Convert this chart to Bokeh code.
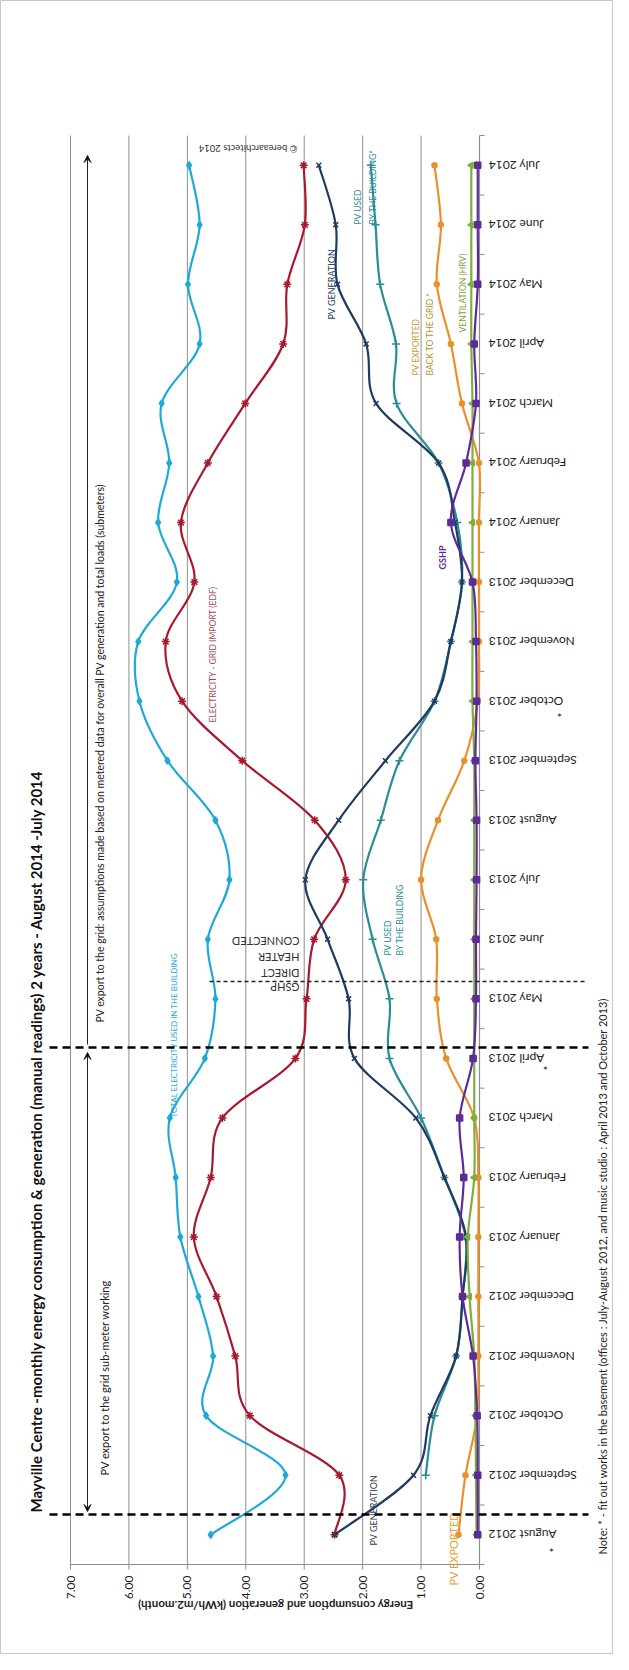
import math
from bokeh.plotting import figure
from bokeh.models import Range1d, Arrow, VeeHead, ColumnDataSource
from bokeh.embed import file_html
from bokeh.resources import INLINE
from bokeh.core.properties import value

# ---------------- data ----------------
months = ["August 2012", "September 2012", "October 2012", "November 2012", "December 2012",
          "January 2013", "February 2013", "March 2013", "April 2013", "May 2013", "June 2013",
          "July 2013", "August 2013", "September 2013", "October 2013", "November 2013",
          "December 2013", "January 2014", "February 2014", "March 2014", "April 2014",
          "May 2014", "June 2014", "July 2014"]

total_electricity = [4.60, 3.32, 4.68, 4.56, 4.81, 5.12, 5.20, 5.30, 4.70, 4.52, 4.65, 4.28,
                     4.52, 5.34, 5.82, 5.84, 5.18, 5.50, 5.31, 5.44, 4.79, 4.99, 4.79, 4.97]
grid_import = [2.48, 2.40, 3.93, 4.18, 4.50, 4.89, 4.60, 4.40, 3.15, 2.96, 2.83, 2.29,
               2.82, 4.06, 5.09, 5.37, 4.88, 5.11, 4.65, 4.01, 3.36, 3.29, 2.99, 3.01]
pv_generation = [2.48, 1.13, 0.84, 0.40, 0.29, 0.23, 0.60, 1.09, 2.14, 2.24, 2.60, 2.98,
                 2.41, 1.61, 0.77, 0.49, 0.30, 0.42, 0.70, 1.77, 1.94, 2.43, 2.46, 2.75]
pv_used = [None, 0.92, 0.77, 0.40, 0.29, 0.24, 0.60, 1.00, 1.54, 1.54, 1.83, 1.99,
           1.69, 1.37, 0.77, 0.49, 0.30, 0.38, 0.70, 1.42, 1.43, 1.70, 1.78, 1.86]
pv_exported = [0.36, 0.24, 0.04, 0.02, 0.02, 0.02, 0.02, 0.09, 0.57, 0.73, 0.74, 1.00,
               0.71, 0.26, 0.03, 0.01, 0.01, 0.01, 0.01, 0.30, 0.49, 0.73, 0.66, 0.77]
ventilation = [0.05, 0.06, 0.07, 0.09, 0.17, 0.20, 0.09, 0.09, 0.09, 0.09, 0.09, 0.09,
               0.09, 0.09, 0.12, 0.12, 0.12, 0.12, 0.12, 0.12, 0.14, 0.14, 0.14, 0.14]
gshp = [0.03, 0.03, 0.04, 0.11, 0.29, 0.34, 0.27, 0.34, 0.11, 0.06, 0.06, 0.05,
        0.05, 0.07, 0.05, 0.06, 0.12, 0.49, 0.23, 0.06, 0.09, 0.03, 0.03, 0.03]

value_ticks = [0, 1, 2, 3, 4, 5, 6, 7]
value_tick_labels = ["0.00", "1.00", "2.00", "3.00", "4.00", "5.00", "6.00", "7.00"]

title_text = ("Mayville Centre -monthly energy consumption & generation  (manual readings) "
              "2 years - August 2014 -July 2014")
axis_title = "Energy consumption and generation (kWh/m2.month)"
note_text = ("Note: * - fit out works in the basement (offices : July-August 2012, "
             "and music studio : April 2013 and October 2013)")

# ---------------- geometry (page px -> data) ----------------
W, H = 613, 1654
X0_PX, X7_PX = 487.0, 78.0          # value 0 and value 7 on page
PPU = (X0_PX - X7_PX) / 7.0
Y_BOT, Y_TOP = 1572.0, 143.0         # category axis ends on page
PPC = (Y_BOT - Y_TOP) / 24.0

def dx(px):
    return (X0_PX - px) / PPU

def dy(py):
    return (Y_BOT - py) / PPC

p = figure(width=W, height=H, output_backend="svg", toolbar_location=None,
           x_axis_location=None, y_axis_location=None, min_border=0,
           x_range=Range1d(dx(8), dx(8 + W)), y_range=Range1d(dy(8 + H), dy(8)))
p.grid.visible = False
p.outline_line_color = "#C8C8C8"
p.background_fill_color = "white"
p.border_fill_color = "white"

FONT = value("Lato")
ncat = len(months)
cat_y = [i + 0.5 for i in range(ncat)]

# ---------------- grid & axes ----------------
grid_vals = [v for v in value_ticks if v > 0]
p.segment(x0=grid_vals, y0=[0] * len(grid_vals), x1=grid_vals, y1=[ncat] * len(grid_vals),
          line_color="#8E8E8E", line_width=1)
# value axis (bottom)
p.segment(x0=[7], y0=[0], x1=[0], y1=[0], line_color="#8E8E8E", line_width=1.2)
p.segment(x0=value_ticks, y0=[0] * 8, x1=value_ticks, y1=[dy(Y_BOT + 5)] * 8,
          line_color="#8E8E8E", line_width=1)
p.text(x=value_ticks, y=[dy(1583)] * 8, text=value_tick_labels, angle=math.pi / 2,
       text_align="right", text_baseline="middle", text_font=FONT, text_font_size="12px",
       text_color="#222222")
p.text(x=[dx(283)], y=[dy(1613)], text=[axis_title], angle=math.pi, text_align="center",
       text_baseline="middle", text_font=FONT, text_font_size="11.5px",
       text_font_style="bold", text_color="#222222")
# category axis (right)
bounds = list(range(ncat + 1))
p.segment(x0=[0], y0=[0], x1=[0], y1=[ncat], line_color="#8E8E8E", line_width=1.2)
p.segment(x0=[0] * len(bounds), y0=bounds, x1=[dx(X0_PX + 5)] * len(bounds), y1=bounds,
          line_color="#8E8E8E", line_width=1)
p.text(x=[dx(496)] * ncat, y=cat_y, text=months, angle=math.pi, text_align="right",
       text_baseline="middle", text_font=FONT, text_font_size="12px", text_color="#222222")
# stars for fit-out months
p.text(x=[dx(559), dx(553), dx(567)], y=[dy(1555), dy(1073), dy(720)], text=["*", "*", "*"],
       angle=math.pi, text_align="center", text_baseline="middle", text_font=FONT,
       text_font_size="12px", text_color="#222222")

# ---------------- smooth series ----------------
def bezier_parts(vals):
    pts = [(v, i + 0.5) for i, v in enumerate(vals)]
    runs, cur = [], []
    for (v, c) in pts:
        if v is None:
            if cur:
                runs.append(cur)
            cur = []
        else:
            cur.append((v, c))
    if cur:
        runs.append(cur)
    out = dict(x0=[], y0=[], x1=[], y1=[], cx0=[], cy0=[], cx1=[], cy1=[])
    for run in runs:
        n = len(run)
        for i in range(n - 1):
            a = run[max(i - 1, 0)]
            b = run[i]
            c = run[i + 1]
            d = run[min(i + 2, n - 1)]
            out["x0"].append(b[0]); out["y0"].append(b[1])
            out["x1"].append(c[0]); out["y1"].append(c[1])
            out["cx0"].append(b[0] + (c[0] - a[0]) / 6.0)
            out["cy0"].append(b[1] + (c[1] - a[1]) / 6.0)
            out["cx1"].append(c[0] - (d[0] - b[0]) / 6.0)
            out["cy1"].append(c[1] - (d[1] - b[1]) / 6.0)
    return out

series = [
    (total_electricity, "#1EA9D8", "diamond", 7, 0),
    (grid_import, "#A8192D", "asterisk", 8, math.pi / 2),
    (pv_used, "#2B8C9A", "cross", 8, 0),
    (pv_generation, "#1F3B62", "x", 7, 0),
    (pv_exported, "#E8902C", "circle", 5, 0),
    (ventilation, "#7DAE3E", "triangle", 6, math.pi / 2),
    (gshp, "#5E2B96", "square", 6, 0),
]
for vals, col, mk, sz, ang in series:
    src = ColumnDataSource(bezier_parts(vals))
    p.bezier(x0="x0", y0="y0", x1="x1", y1="y1", cx0="cx0", cy0="cy0", cx1="cx1", cy1="cy1",
             source=src, line_color=col, line_width=2.2)
    xs = [v for v in vals if v is not None]
    ys = [i + 0.5 for i, v in enumerate(vals) if v is not None]
    p.scatter(x=xs, y=ys, marker=mk, size=sz, angle=ang, line_color=col, fill_color=col,
              line_width=1.5)

# ---------------- annotations ----------------
def vtext(px, py, txt, size, color, style="normal", align="left"):
    p.text(x=[dx(px)], y=[dy(py)], text=[txt], angle=math.pi / 2, text_align=align,
           text_baseline="middle", text_font=FONT, text_font_size=size,
           text_font_style=style, text_color=color)

def utext(px, py, txt, size, color, align="left", style="normal"):
    p.text(x=[dx(px)], y=[dy(py)], text=[txt], angle=math.pi, text_align=align,
           text_baseline="middle", text_font=FONT, text_font_size=size,
           text_font_style=style, text_color=color)

vtext(43, 1520, title_text, "15px", "#111111", style="bold")
vtext(112, 1483, "PV export to the grid sub-meter working", "11px", "#222222")
vtext(107, 1030, "PV export to the grid: assumptions made based on metered data for overall "
      "PV generation and total loads (submeters)", "10.5px", "#222222")
vtext(610, 1562, note_text, "11px", "#222222")

# series labels
vtext(181, 1125, "TOTAL ELECTRICITY USED IN THE BUILDING", "8px", "#1EA9D8")
vtext(220, 730, "ELECTRICITY - GRID IMPORT (EDF)", "8.5px", "#9C4A5E")
vtext(381, 1553, "PV GENERATION", "9px", "#2E3F55")
vtext(339, 327, "PV GENERATION", "9px", "#1F3B62")
vtext(461, 1593, "PV EXPORTED", "11px", "#E0A030")
vtext(395, 963, "PV USED", "8.5px", "#2B8C9A")
vtext(407, 963, "BY THE BUILDING", "8.5px", "#2B8C9A")
vtext(365, 232, "PV USED", "8.5px", "#2B8C9A")
vtext(380, 232, "BY THE BUILDING*", "8.5px", "#2B8C9A")
vtext(423, 383, "PV EXPORTED", "8.5px", "#C89B2E")
vtext(437, 383, "BACK TO THE GRID *", "8.5px", "#B8912A")
vtext(470, 340, "VENTILATION (HRV)", "8.5px", "#7F9F3F")
vtext(450, 577, "GSHP", "9px", "#5E2B96", style="bold")

utext(305, 156, "\u00a9 bereaarchitects 2014", "9.5px", "#333333")
for py, t in [(995, "GSHP"), (981, "DIRECT"), (965, "HEATER"), (949, "CONNECTED")]:
    utext(307, py, t, "11px", "#333333")

# dashed markers
p.segment(x0=[dx(57), dx(57)], y0=[dy(1522), dy(1055)], x1=[dx(596), dx(596)],
          y1=[dy(1522), dy(1055)], line_color="black", line_width=2.5, line_dash="8 5")
p.segment(x0=[dx(217)], y0=[dy(989)], x1=[dx(593)], y1=[dy(989)], line_color="#222222",
          line_width=1.3, line_dash="4 3")

# arrows
p.add_layout(Arrow(x_start=dx(95), y_start=dy(1060), x_end=dx(95), y_end=dy(1519),
                   line_color="#222222", line_width=1,
                   end=VeeHead(size=7, line_color="#222222", line_width=1),
                   start=VeeHead(size=7, line_color="#222222", line_width=1)))
p.add_layout(Arrow(x_start=dx(95), y_start=dy(1052), x_end=dx(95), y_end=dy(163),
                   line_color="#222222", line_width=1,
                   end=VeeHead(size=7, line_color="#222222", line_width=1)))

open("out.html", "w").write(file_html(p, INLINE))
